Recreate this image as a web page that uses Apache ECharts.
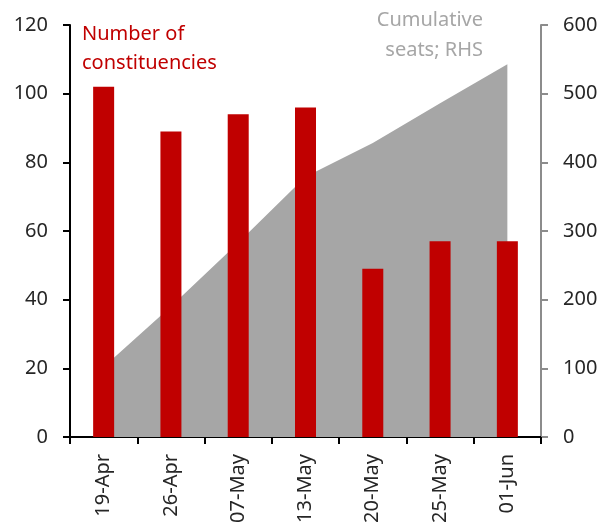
<!DOCTYPE html>
<html>
<head>
<meta charset="utf-8">
<script src="https://cdn.jsdelivr.net/npm/echarts@6/dist/echarts.min.js"></script>
<style>
  html, body { margin: 0; padding: 0; background: #fff; }
  #chart { width: 603px; height: 529px; }
</style>
</head>
<body>
<div id="chart"></div>
<script>
// phase dates
var categories = ['19-Apr', '26-Apr', '07-May', '13-May', '20-May', '25-May', '01-Jun'];
// constituencies polled in each phase (LHS)
var constituencies = [102, 89, 94, 96, 49, 57, 57];
// cumulative seats (RHS)
var cumulativeSeats = [102, 190, 283, 379, 428, 486, 543];
var leftTicks = [0, 120, 20];
var rightTicks = [0, 600, 100];

var FONT = 'Noto Sans';

window.onload = function () {
    var myChart = echarts.init(document.getElementById('chart'));
    var option = {
        animation: false,
        grid: { left: 70, right: 62, top: 25, bottom: 92 },
        graphic: [
            {
                type: 'text', left: 82, top: 20,
                style: { text: 'Number of\nconstituencies', fill: '#C00000', font: '20px "' + FONT + '"', lineHeight: 29 }
            },
            {
                type: 'text', right: 120, top: 10,
                style: { text: 'Cumulative', fill: '#A6A6A6', font: '20px "' + FONT + '"' }
            },
            {
                type: 'text', right: 120, top: 40,
                style: { text: 'seats; RHS', fill: '#A6A6A6', font: '20px "' + FONT + '"' }
            }
        ],
        xAxis: [{
            type: 'category',
            data: categories,
            axisLine: { lineStyle: { color: '#000', width: 2 } },
            axisTick: { show: true, length: 7, lineStyle: { color: '#000', width: 2 } },
            axisLabel: { interval: 0, rotate: 90, margin: 17, color: '#262626', fontSize: 20, fontFamily: FONT }
        }],
        yAxis: [{
            type: 'value',
            min: leftTicks[0], max: leftTicks[1], interval: leftTicks[2],
            splitLine: { show: false },
            axisLine: { show: true, lineStyle: { color: '#000', width: 2 } },
            axisTick: { show: true, length: 7, lineStyle: { color: '#000', width: 2 } },
            axisLabel: { margin: 22, color: '#262626', fontSize: 20, fontFamily: FONT }
        }, {
            type: 'value',
            position: 'right',
            min: rightTicks[0], max: rightTicks[1], interval: rightTicks[2],
            splitLine: { show: false },
            axisLine: { show: true, lineStyle: { color: '#8C8C8C', width: 2 } },
            axisTick: { show: true, length: 7, lineStyle: { color: '#8C8C8C', width: 2 } },
            axisLabel: { margin: 22, color: '#262626', fontSize: 20, fontFamily: FONT }
        }],
        series: [{
            name: 'Cumulative seats',
            type: 'line',
            yAxisIndex: 1,
            data: cumulativeSeats,
            symbol: 'none',
            lineStyle: { width: 0 },
            areaStyle: { color: '#A6A6A6', opacity: 1 },
            z: 1
        }, {
            name: 'Number of constituencies',
            type: 'bar',
            data: constituencies,
            barWidth: 21,
            itemStyle: { color: '#C00000' },
            z: 2
        }]
    };
    myChart.setOption(option);
};
</script>
</body>
</html>
